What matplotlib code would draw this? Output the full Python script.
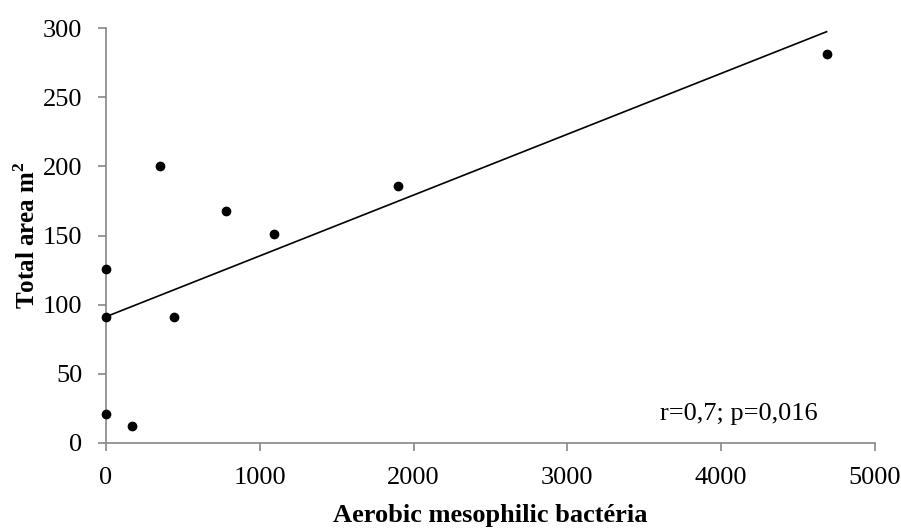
import numpy as np
import matplotlib
matplotlib.use('Agg')
import matplotlib.pyplot as plt

# data
bacteria = [0, 0, 0, 169, 351, 442, 780, 1092, 1898, 4686]
total_area = [126, 91, 21, 12, 200, 91, 168, 151, 186, 281]
x_ticks = [0, 1000, 2000, 3000, 4000, 5000]
y_ticks = [0, 50, 100, 150, 200, 250, 300]

plt.rcParams['font.family'] = ['Liberation Serif', 'DejaVu Serif']
plt.rcParams['mathtext.fontset'] = 'custom'
plt.rcParams['mathtext.rm'] = 'Liberation Serif'
plt.rcParams['mathtext.bf'] = 'Liberation Serif:bold'

fig = plt.figure(figsize=(9.01, 5.29), dpi=100)
ax = fig.add_axes([0.1176, 0.1626, 0.8534, 0.7844])

x = np.array(bacteria, dtype=float)
y = np.array(total_area, dtype=float)

# linear trend line over the data range
slope, intercept = np.polyfit(x, y, 1)
x_fit = np.array([0, x.max()])
ax.plot(x_fit, slope * x_fit + intercept, color='black', linewidth=1.2, zorder=2)

ax.scatter(x, y, s=36, color='black', zorder=3, clip_on=False)

ax.set_xlim(0, 5000)
ax.set_ylim(0, 300)
ax.set_xticks(x_ticks)
ax.set_yticks(y_ticks)

for side in ['top', 'right']:
    ax.spines[side].set_visible(False)
for side in ['left', 'bottom']:
    ax.spines[side].set_color('#868686')
    ax.spines[side].set_linewidth(1.2)
ax.tick_params(direction='out', length=6, width=1.2, color='#868686',
               labelsize=19, labelcolor='black')
ax.tick_params(axis='y', pad=11)
ax.tick_params(axis='x', pad=11)

ax.set_xlabel('Aerobic mesophilic bactéria', fontsize=19, fontweight='bold')
ax.set_ylabel('Total area m$^{\\mathbf{2}}$', fontsize=18, fontweight='bold')
ax.xaxis.set_label_coords(0.5, -0.148)
ax.yaxis.set_label_coords(-0.086, 0.5)

ax.text(0.926, 0.07, 'r=0,7; p=0,016', transform=ax.transAxes,
        fontsize=19, ha='right', va='center')

fig.savefig('out.png', dpi=100)
plt.close(fig)
